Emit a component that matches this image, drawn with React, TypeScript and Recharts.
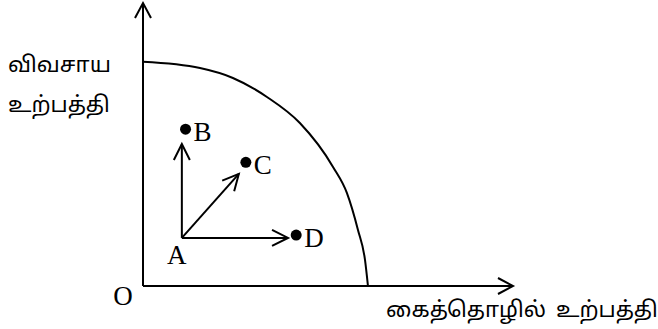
import React from 'react';
import { ComposedChart, Line, Scatter, XAxis, YAxis, Customized } from 'recharts';

// axis lines (data units: x 0..100, y 0..100)
const yAxisLine = [{ x: 0, y: 0 }, { x: 0, y: 100 }];
const xAxisLine = [{ x: 0, y: 0 }, { x: 100, y: 0 }];

// production possibility curve
const ppcCurve = [
  { x: 0, y: 79.2 },
  { x: 15.4, y: 77.0 },
  { x: 24.3, y: 73.5 },
  { x: 33.5, y: 66.8 },
  { x: 42.4, y: 57.6 },
  { x: 51.4, y: 42.0 },
  { x: 55.1, y: 32.9 },
  { x: 58.1, y: 19.8 },
  { x: 60.0, y: 9.2 },
  { x: 60.8, y: 0 },
];

// starting point A and the three movement vectors
const startPoint = [{ name: 'A', x: 10.5, y: 17.0 }];
const originPoint = [{ name: 'O', x: 0, y: 0 }];
const arrowToB = [{ x: 10.5, y: 17.0 }, { x: 10.5, y: 50.2 }];
const arrowToC = [{ x: 10.5, y: 17.0 }, { x: 25.9, y: 39.6 }];
const arrowToD = [{ x: 10.5, y: 17.0 }, { x: 39.2, y: 17.0 }];

// target combinations
const combos = [
  { name: 'B', x: 11.5, y: 55.4 },
  { name: 'C', x: 27.8, y: 43.7 },
  { name: 'D', x: 41.4, y: 18.0 },
];

const yTitleLines = ['விவசாய', 'உற்பத்தி'];
const xTitleWords = ['கைத்தொழில்', 'உற்பத்தி'];

const TAMIL_FONT = "'Noto Sans Tamil', 'Lohit Tamil', 'Latha', 'Noto Sans', sans-serif";
const SERIF_FONT = "'Liberation Serif', 'Times New Roman', serif";

function makeArrowHead(len: number, half: number) {
  let prev: { x: number; y: number } | null = null;
  return (props: any) => {
    const { cx, cy, index, points } = props;
    if (index === 0) {
      prev = { x: cx, y: cy };
      return <g key={`d-${index}`} />;
    }
    const p0 =
      points && points[index - 1]
        ? { x: points[index - 1].x, y: points[index - 1].y }
        : prev || { x: cx, y: cy + 1 };
    const dx = cx - p0.x;
    const dy = cy - p0.y;
    const L = Math.hypot(dx, dy) || 1;
    const ux = dx / L;
    const uy = dy / L;
    const bx = cx - ux * len;
    const by = cy - uy * len;
    const px = -uy * half;
    const py = ux * half;
    return (
      <polyline
        key={`d-${index}`}
        points={`${bx + px},${by + py} ${cx},${cy} ${bx - px},${by - py}`}
        fill="none"
        stroke="#000"
        strokeWidth={2}
        strokeLinejoin="miter"
      />
    );
  };
}

const ComboShape = (props: any) => {
  const { cx, cy, payload } = props;
  return (
    <g>
      <circle cx={cx} cy={cy} r={5.5} fill="#000" />
      <text x={cx + 8} y={cy + 12} fontSize={27} fontFamily={SERIF_FONT} fill="#000">
        {payload.name}
      </text>
    </g>
  );
};

const StartShape = (props: any) => {
  const { cx, cy, payload } = props;
  return (
    <text x={cx - 5} y={cy + 26} fontSize={27} fontFamily={SERIF_FONT} fill="#000" textAnchor="middle">
      {payload.name}
    </text>
  );
};

const OriginShape = (props: any) => {
  const { cx, cy, payload } = props;
  return (
    <text x={cx - 20} y={cy + 19} fontSize={27} fontFamily={SERIF_FONT} fill="#000" textAnchor="middle">
      {payload.name}
    </text>
  );
};

const Titles = () => (
  <g>
    {yTitleLines.map((t, i) => (
      <text key={t} x={8} y={72 + i * 40} fontSize={22} fontFamily={TAMIL_FONT} fill="#000">
        {t}
      </text>
    ))}
    <text x={386} y={317} fontSize={22} fontFamily={TAMIL_FONT} fill="#000">
      {xTitleWords[0]}
    </text>
    <text x={556} y={317} fontSize={22} fontFamily={TAMIL_FONT} fill="#000">
      {xTitleWords[1]}
    </text>
  </g>
);

export default function App() {
  return (
    <div style={{ position: 'absolute', left: 0, top: 0, width: 658, height: 329, background: '#fff' }}>
      <ComposedChart
        width={658}
        height={329}
        margin={{ top: 3, right: 145, bottom: 43, left: 143 }}
      >
        <XAxis type="number" dataKey="x" domain={[0, 100]} hide />
        <YAxis type="number" dataKey="y" domain={[0, 100]} hide />
        <Line data={yAxisLine} dataKey="y" type="linear" stroke="#000" strokeWidth={2}
          dot={makeArrowHead(15, 8)} activeDot={false} isAnimationActive={false} />
        <Line data={xAxisLine} dataKey="y" type="linear" stroke="#000" strokeWidth={2}
          dot={makeArrowHead(15, 8)} activeDot={false} isAnimationActive={false} />
        <Line data={ppcCurve} dataKey="y" type="monotone" stroke="#000" strokeWidth={2}
          dot={false} activeDot={false} isAnimationActive={false} />
        <Line data={arrowToB} dataKey="y" type="linear" stroke="#000" strokeWidth={2}
          dot={makeArrowHead(16, 8)} activeDot={false} isAnimationActive={false} />
        <Line data={arrowToC} dataKey="y" type="linear" stroke="#000" strokeWidth={2}
          dot={makeArrowHead(16, 8)} activeDot={false} isAnimationActive={false} />
        <Line data={arrowToD} dataKey="y" type="linear" stroke="#000" strokeWidth={2}
          dot={makeArrowHead(16, 8)} activeDot={false} isAnimationActive={false} />
        <Scatter data={combos} dataKey="y" shape={ComboShape} isAnimationActive={false} />
        <Scatter data={startPoint} dataKey="y" shape={StartShape} isAnimationActive={false} />
        <Scatter data={originPoint} dataKey="y" shape={OriginShape} isAnimationActive={false} />
        <Customized component={Titles} />
      </ComposedChart>
    </div>
  );
}
